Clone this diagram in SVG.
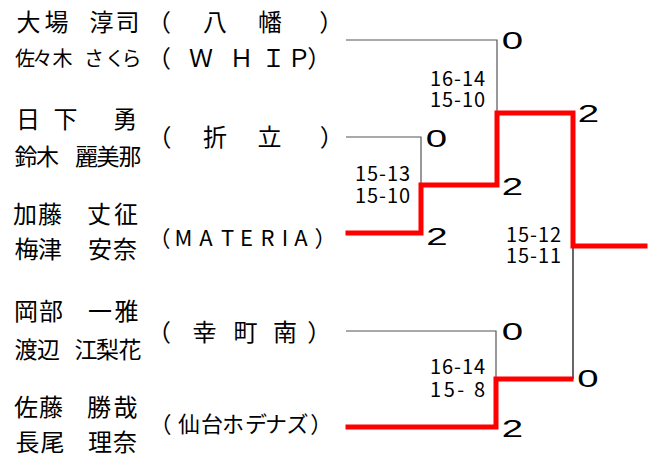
<svg xmlns="http://www.w3.org/2000/svg" width="660" height="461" viewBox="0 0 660 461">
<style>
.nm{font-family:"Noto Sans CJK JP","Noto Sans",sans-serif;font-size:24px;fill:#000;text-anchor:middle}
.sm{font-size:20px}
.md{font-size:23px}
.tm{font-family:"Noto Sans CJK JP","Noto Sans",sans-serif;font-size:24px;fill:#000;text-anchor:middle}
.sc{font-family:"Noto Sans CJK JP","Noto Sans",sans-serif;font-size:20px;fill:#000}
.pt{font-family:"Liberation Sans",Arial,sans-serif;font-size:24px;fill:#000;text-anchor:middle}
.gl{fill:none;stroke:#555;stroke-width:1.2}
.bl{fill:none;stroke:#000;stroke-width:1.2}
.rd{fill:none;stroke:#ff0000;stroke-width:5;stroke-linejoin:miter;stroke-linecap:square}
</style>
<rect width="660" height="461" fill="#fff"/>
<g id="connectors">
<path class="gl" d="M346,40 H497 V113"/>
<path class="gl" d="M346,137 H421 V185"/>
<path class="gl" d="M346,331 H496 V379"/>
<path class="bl" d="M573,246 V379"/>
<path class="rd" d="M348,233 H421 V185 H497 V113 H573 V246 H645"/>
<path class="rd" d="M348,427 H496 V379 H571"/>
</g>
<g id="player1">
<text class="nm" x="28.5 56.5 78 101.5 127.5" y="31">大場　淳司</text>
<text class="nm sm" x="25 42.5 62.5 78 94 115 131.5" y="66">佐々木 さくら</text>
<text class="tm" x="159 190 215 243 270 319.3" y="31">（　八　幡　）</text>
<text class="tm" x="159 201 241.5 273.5 299 319.3" y="67">（ＷＨＩＰ）</text>
</g>
<g id="player2">
<text class="nm" x="28 45 65.5 90 125" y="128">日 下　勇</text>
<text class="nm md" x="26 47.5 66 86.5 108 130" y="165">鈴木 麗美那</text>
<text class="tm" x="159.5 190 215 243 269.5 319.8" y="146">（　折　立　）</text>
</g>
<g id="player3">
<text class="nm" x="25 50 75 99 126" y="223">加藤　丈征</text>
<text class="nm" x="26.5 50 75 100 125" y="258">梅津　安奈</text>
<text class="tm" style="font-size:22px" x="159.5 183.5 206 227.5 246.5 267.5 285 301 325.4" y="246">（MATERIA）</text>
</g>
<g id="player4">
<text class="nm" x="26 51 75 100 126.5" y="320">岡部　一雅</text>
<text class="nm md" x="26 48.5 66 86 107.5 130" y="358">渡辺 江梨花</text>
<text class="tm" x="159 185 204.5 225 245.5 265 285 300 319.3" y="341">（ 幸 町 南 ）</text>
</g>
<g id="player5">
<text class="nm" x="26 51 75 99 125.5" y="416">佐藤　勝哉</text>
<text class="nm" x="27.5 52.5 75 100 125" y="451">長尾　理奈</text>
<text class="tm" style="font-size:22px" x="160.5 189 212 233 256 276 297.5 321.3" y="432">（仙台ホデナズ）</text>
</g>
<g id="scores">
<text class="sc" x="430" y="86" textLength="55">16-14</text>
<text class="sc" x="430" y="107" textLength="55">15-10</text>
<text class="sc" x="355" y="180.5" textLength="55">15-13</text>
<text class="sc" x="355" y="203" textLength="55">15-10</text>
<text class="sc" x="506" y="241.5" textLength="55">15-12</text>
<text class="sc" x="506" y="263" textLength="55">15-11</text>
<text class="sc" x="430" y="374" textLength="55">16-14</text>
<text class="sc" x="430" y="397" textLength="55">15- 8</text>
<text class="pt" transform="translate(512.5,49) scale(1.6,1)">0</text>
<text class="pt" transform="translate(588.5,122) scale(1.6,1)">2</text>
<text class="pt" transform="translate(436.5,147) scale(1.6,1)">0</text>
<text class="pt" transform="translate(512.5,195) scale(1.6,1)">2</text>
<text class="pt" transform="translate(437,245) scale(1.6,1)">2</text>
<text class="pt" transform="translate(512.5,340) scale(1.6,1)">0</text>
<text class="pt" transform="translate(588,387) scale(1.6,1)">0</text>
<text class="pt" transform="translate(512.5,437) scale(1.6,1)">2</text>
</g>
</svg>
